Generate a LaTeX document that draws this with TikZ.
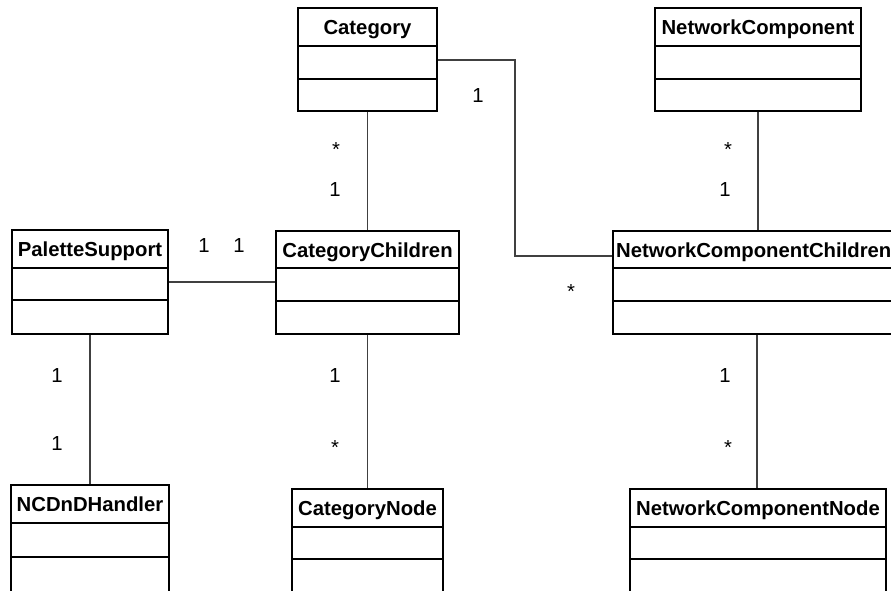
\documentclass[tikz,border=0pt]{standalone}
\usepackage{fontspec}
\setmainfont{Liberation Sans}
\newcommand\labelfont{\fontsize{20.3}{24}\selectfont}
\tikzset{
  classbox/.style={draw=black, line width=1.7pt, inner sep=0pt, fill=white},
  classtitle/.style={font=\labelfont\bfseries, inner sep=0pt},
  divider/.style={draw=black, line width=1.7pt},
  conn/.style={draw=black!75, line width=1.1pt},
  mult/.style={font=\labelfont, inner sep=0pt, anchor=base},
}
% \umlframe{name}{left}{right}{top}{header bottom}{divider}{bottom}
\newcommand\umlframe[7]{%
  \node[classbox, minimum width={(#3-#2)*1pt}, minimum height={(#7-#4)*1pt}]
    (#1) at ({(#2+#3)/2},{(#4+#7)/2}) {};
  \draw[divider] (#1.west |- 0,#5) -- (#1.east |- 0,#5);
  \draw[divider] (#1.west |- 0,#6) -- (#1.east |- 0,#6);
}
% \umlclass{name}{left}{right}{top}{header bottom}{divider}{bottom}{title}
\newcommand\umlclass[8]{%
  \umlframe{#1}{#2}{#3}{#4}{#5}{#6}{#7}
  \node[classtitle, anchor=base] (#1-title) at ({(#2+#3)/2},{#4+26}) {#8};
}
\begin{document}
\begin{tikzpicture}[x=1pt, y=-1pt]
  \useasboundingbox (0,0) rectangle (891,590);
  \clip (0,0) rectangle (891,590);

  \coordinate (bend) at (515,60);

  % class boxes
  \umlclass{cat}{298}{437}{8}{46}{79}{111}{Category}
  \umlclass{nc}{655}{861}{8}{46}{79}{111}{NetworkComponent}
  \umlclass{ps}{12}{168}{230}{268}{300}{334}{PaletteSupport}
  \umlclass{cc}{276}{459}{231}{268}{301}{334}{CategoryChildren}
  % title wider than its box: set from the left edge
  \umlframe{ncc}{613}{901}{231}{268}{301}{334}
  \node[classtitle, anchor=base west] (ncc-title) at (616,257) {NetworkComponentChildren};
  \umlclass{ncd}{11}{169}{485}{523}{557}{610}{NCDnDHandler}
  \umlclass{cn}{292}{443}{489}{527}{559}{610}{CategoryNode}
  \umlclass{ncn}{630}{886}{489}{527}{559}{610}{NetworkComponentNode}

  % associations
  \draw[conn] (cat.south) -- (cc.north);
  \draw[conn] (cat.east |- bend) -- (bend) |- (ncc.west |- 0,256);
  \draw[conn] (nc.south) -- (nc.south |- ncc.north);
  \draw[conn] (ps.east |- 0,282) -- (cc.west |- 0,282);
  \draw[conn] (ps.south) -- (ncd.north);
  \draw[conn] (cc.south) -- (cn.north);
  \draw[conn] (ncc.south) -- (ncc.south |- ncn.north);

  % multiplicities
  \node[mult] (m1) at (336,156) {*};
  \node[mult] (m2) at (335,196) {1};
  \node[mult] (m3) at (478,102) {1};
  \node[mult] (m4) at (571,298) {*};
  \node[mult] (m5) at (728,156) {*};
  \node[mult] (m6) at (725,196) {1};
  \node[mult] (m7) at (204,252) {1};
  \node[mult] (m8) at (239,252) {1};
  \node[mult] (m9) at (57,382) {1};
  \node[mult] (m10) at (57,450) {1};
  \node[mult] (m11) at (335,382) {1};
  \node[mult] (m12) at (335,454) {*};
  \node[mult] (m13) at (725,382) {1};
  \node[mult] (m14) at (728,454) {*};
\end{tikzpicture}
\end{document}
